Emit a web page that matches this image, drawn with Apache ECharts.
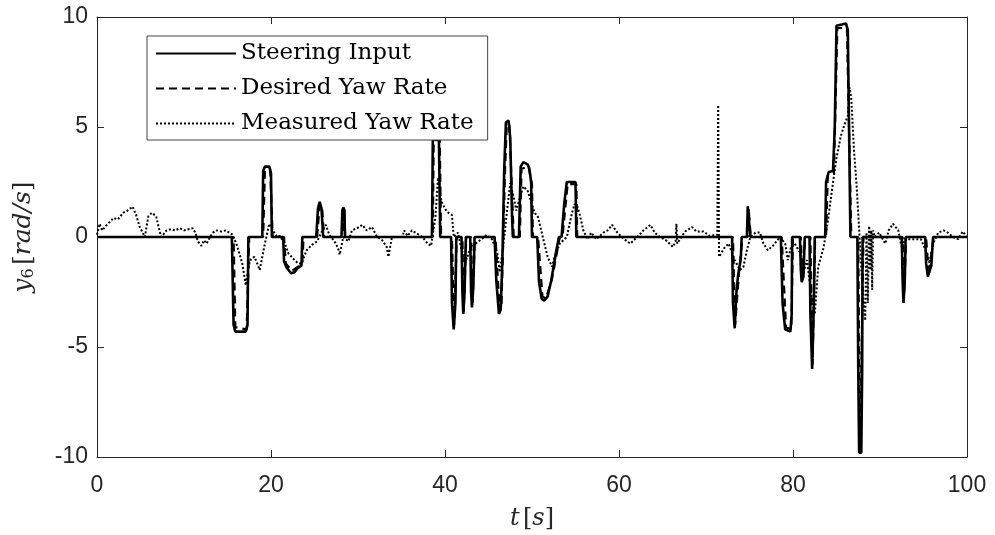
<!DOCTYPE html>
<html>
<head>
<meta charset="utf-8">
<script src="https://cdn.jsdelivr.net/npm/echarts@6/dist/echarts.min.js"></script>
<style>
  html, body { margin: 0; padding: 0; background: #fff; }
  #chart { width: 995px; height: 535px; }
</style>
</head>
<body>
<div id="chart"></div>
<script>
// axis ticks
const xTicks = [0, 20, 40, 60, 80, 100]
const yTicks = [-10, -5, 0, 5, 10]
const seriesNames = ['Steering Input', 'Desired Yaw Rate', 'Measured Yaw Rate']

// [t, value]
const steering = [
  [0, 0], [15.5, 0], [15.7, -4.0], [15.9, -4.3], [17.1, -4.3], [17.3, -4.0], [17.4, 0],
  [19.0, 0], [19.1, 3.0], [19.3, 3.2], [19.8, 3.2], [20.0, 2.9], [20.1, 0],
  [21.4, 0], [21.5, -1.1], [21.8, -1.4], [22.3, -1.65], [22.7, -1.6], [23.1, -1.4], [23.5, -1.3], [23.6, 0],
  [25.2, 0], [25.4, 1.3], [25.6, 1.6], [25.8, 1.3], [26.0, 0],
  [28.1, 0], [28.2, 1.2], [28.3, 1.35], [28.45, 1.2], [28.5, 0],
  [38.5, 0], [38.6, 4.5], [39.3, 4.5], [39.45, 0],
  [40.7, 0], [40.8, -3.0], [41.0, -4.2], [41.2, -3.0], [41.3, 0],
  [41.9, 0], [42.0, -2.5], [42.1, -3.5], [42.25, -2.5], [42.4, 0],
  [42.9, 0], [43.0, -2.5], [43.1, -3.2], [43.25, -2.3], [43.4, 0],
  [45.7, 0], [45.9, -2.0], [46.2, -3.5], [46.4, -3.3], [46.6, -1.0], [46.8, 3.0], [47.0, 5.2], [47.3, 5.3], [47.5, 4.5], [47.7, 1.0], [47.8, 0],
  [48.5, 0], [48.7, 3.2], [49.0, 3.4], [49.5, 3.3], [49.7, 3.1], [49.9, 2.5], [50.0, 0],
  [50.6, 0], [50.8, -2.0], [51.1, -2.8], [51.4, -2.9], [51.8, -2.7], [52.2, -2.0], [52.8, -0.6], [53.1, 0],
  [53.4, 0], [53.7, 1.5], [54.0, 2.5], [55.0, 2.5], [55.1, 0],
  [73.0, 0], [73.1, -3.0], [73.3, -4.15], [73.5, -2.5], [73.7, -1.7], [74.0, -1.0], [74.1, 0],
  [74.7, 0], [74.8, 1.4], [74.95, 1.4], [75.1, 0],
  [78.6, 0], [78.8, -3.0], [79.1, -4.2], [79.7, -4.3], [79.85, -3.5], [79.9, 0],
  [80.8, 0], [80.9, -1.5], [81.0, -2.05], [81.2, -1.8], [81.35, 0],
  [81.9, 0], [82.0, -3.5], [82.2, -6.0], [82.4, -3.0], [82.5, 0],
  [83.7, 0], [83.8, 2.5], [84.1, 2.95], [84.6, 3.0], [84.8, 5.0], [85.0, 9.6], [86.1, 9.7], [86.3, 9.4], [86.6, 0],
  [87.4, 0], [87.5, -6.0], [87.6, -9.8], [87.85, -9.8], [87.95, -6.0], [88.0, 0],
  [92.5, 0], [92.6, -2.0], [92.7, -3.0], [92.85, -2.0], [92.95, 0],
  [95.2, 0], [95.3, -1.2], [95.5, -1.8], [95.7, -1.8], [95.9, -1.3], [96.1, 0], [100, 0]
]

const desired = [
  [0, 0], [15.7, 0], [15.9, -4.1], [17.2, -4.2], [17.5, 0],
  [19.1, 0], [19.3, 3.0], [19.9, 3.1], [20.2, 0],
  [21.5, 0], [21.7, -1.2], [22.4, -1.55], [23.1, -1.35], [23.6, -1.2], [23.75, 0],
  [25.3, 0], [25.6, 1.5], [25.9, 1.2], [26.1, 0],
  [28.2, 0], [28.35, 1.25], [28.55, 0],
  [38.6, 0], [38.7, 4.4], [39.4, 4.4], [39.55, 0],
  [40.8, 0], [41.05, -4.0], [41.35, 0],
  [42.0, 0], [42.15, -3.4], [42.45, 0],
  [43.0, 0], [43.15, -3.1], [43.45, 0],
  [45.8, 0], [46.3, -3.4], [46.5, -3.0], [46.9, 3.0], [47.1, 5.1], [47.4, 5.1], [47.8, 1.0], [47.9, 0],
  [48.6, 0], [48.8, 3.1], [49.6, 3.2], [50.0, 2.4], [50.1, 0],
  [50.7, 0], [51.2, -2.7], [51.6, -2.8], [52.3, -1.9], [53.2, 0],
  [53.5, 0], [54.1, 2.4], [55.1, 2.4], [55.2, 0],
  [73.1, 0], [73.35, -4.0], [73.8, -1.6], [74.2, 0],
  [74.8, 0], [74.9, 1.3], [75.15, 0],
  [78.7, 0], [79.2, -4.1], [79.8, -4.2], [80.0, 0],
  [80.9, 0], [81.05, -1.95], [81.4, 0],
  [82.0, 0], [82.25, -5.8], [82.55, 0],
  [83.8, 0], [84.0, 2.8], [84.7, 2.9], [85.1, 9.5], [86.2, 9.5], [86.7, 0],
  [87.5, 0], [87.7, -9.7], [87.9, -9.7], [88.1, 0],
  [92.6, 0], [92.75, -2.9], [93.0, 0],
  [95.3, 0], [95.6, -1.75], [95.8, -1.75], [96.15, 0], [100, 0]
]

const measured = [
  [0, 0.1], [0.3, 0.6], [0.6, 0.3], [1.0, 0.5], [1.5, 0.7], [1.9, 0.86], [2.4, 0.8], [3.0, 1.1], [3.5, 1.2],
  [4.1, 1.38], [4.5, 1.0], [4.9, 0.47], [5.5, 0.0], [5.9, 0.94], [6.3, 1.1], [6.8, 0.94], [7.2, 0.26], [7.4, 0.0],
  [8.0, 0.3], [8.5, 0.35], [9.0, 0.3], [9.5, 0.4], [10.0, 0.3], [10.5, 0.35], [11.0, 0.4], [11.3, 0.2],
  [11.6, -0.2], [12.0, -0.4], [12.3, -0.15], [12.6, -0.3], [13.0, 0.0], [13.3, 0.2], [13.8, 0.3], [14.3, 0.25],
  [14.8, 0.3], [15.2, 0.2], [15.6, 0.1], [16.1, -0.4], [16.4, -0.8], [16.7, -1.2], [17.1, -2.2], [17.4, -1.4],
  [17.6, -1.05], [18.1, -0.9], [18.7, -1.5], [19.3, -0.3], [19.8, 0.6], [20.2, 0.3], [20.7, 0.0], [21.0, 0.05],
  [21.6, -0.3], [22.0, -0.75], [22.6, -1.0], [23.1, -1.2], [23.5, -1.2], [24.1, -0.6], [24.7, -0.36], [25.3, -0.2],
  [25.9, 0.3], [26.3, 0.55], [26.7, 0.1], [27.3, -0.2], [27.7, -0.5], [27.9, -0.8], [28.3, 0.0], [28.9, -0.2],
  [29.3, 0.3], [29.9, 0.4], [30.5, 0.55], [31.0, 0.3], [31.6, 0.45], [32.2, 0.0], [32.7, -0.1], [33.3, -0.45],
  [33.5, -0.9], [33.9, 0.0], [34.5, 0.0], [35.1, 0.0], [35.3, 0.3], [35.7, 0.05], [36.2, 0.3], [36.8, 0.15],
  [37.4, 0.0], [38.0, -0.3], [38.4, -0.4], [38.9, 0.9], [39.2, 2.7], [39.6, 1.6], [40.2, 1.15], [40.8, 1.0],
  [41.0, 0.0], [41.5, 0.2], [41.9, -0.6], [42.5, -1.0], [42.9, -0.5], [43.5, -0.3], [44.2, -0.1], [44.8, 0.1],
  [45.4, -0.1], [46.0, -0.7], [46.3, -1.6], [46.7, -0.4], [47.1, 1.1], [47.5, 2.45], [47.9, 1.8], [48.2, 1.2],
  [48.6, 1.8], [49.0, 2.3], [49.5, 2.1], [49.9, 1.6], [50.3, 1.1], [50.7, 0.9], [51.3, -0.1], [51.8, -0.9],
  [52.3, -1.35], [52.6, -0.9], [53.2, -0.3], [54.0, 0.0], [54.6, 1.1], [54.9, 1.5], [55.2, 1.4], [55.5, 1.0],
  [55.9, 0.3], [56.4, -0.1], [56.8, 0.2], [57.4, -0.1], [58.2, 0.2], [58.7, 0.3], [59.2, 0.55], [59.8, 0.2],
  [60.6, -0.1], [61.3, -0.3], [62.1, 0.0], [62.8, 0.3], [63.6, 0.55], [64.1, 0.2], [64.7, 0.0], [65.4, -0.15],
  [66.2, -0.45], [66.5, -0.2], [66.6, 0.6], [66.7, -0.3], [67.0, -0.1], [67.6, 0.25], [68.4, 0.45], [68.9, 0.25],
  [69.7, 0.25], [70.4, 0.05], [71.3, 0.1], [71.4, 6.0], [71.5, -0.9], [71.6, -0.9], [72.1, -0.5], [72.6, -0.3],
  [73.3, -1.05], [73.9, -1.5], [74.3, -1.35], [74.7, -0.6], [75.1, 0.0], [75.7, 0.2], [76.2, 0.2], [76.6, -0.3],
  [77.1, -0.6], [77.7, -0.4], [78.5, 0.0], [79.1, -0.3], [79.4, -1.05], [79.8, -0.4], [80.2, -0.3], [80.8, -0.7],
  [81.2, -1.65], [81.6, -1.05], [82.1, -2.6], [82.5, -3.5], [82.9, -1.35], [83.5, -0.5], [84.0, 0.7],
  [84.5, 2.2], [85.0, 3.6], [85.5, 4.6], [86.0, 5.2], [86.3, 5.5], [86.5, 6.8], [86.7, 6.3], [87.0, 4.0],
  [87.3, 2.4], [87.7, -0.3], [88.0, -2.5], [88.3, -3.8], [88.45, 0.2], [88.6, -3.0], [88.75, 0.5], [88.9, -1.5],
  [89.0, 0.3], [89.1, -2.4], [89.2, 0.3], [89.4, 0.0], [89.9, 0.2], [90.6, -0.3], [91.0, 0.3], [91.5, 0.6],
  [92.1, 0.3], [92.4, -0.3], [92.6, -0.6], [92.8, -0.1], [93.4, -0.1], [94.2, -0.1], [94.7, -0.1], [95.4, -0.75],
  [95.7, -1.2], [96.1, -0.3], [96.7, 0.2], [97.3, 0.3], [97.8, 0.2], [98.4, 0.0], [99.0, -0.1], [99.5, 0.25], [100, 0.0]
]

const axisColor = '#262626'
const tickFont = { fontFamily: 'Liberation Sans', fontSize: 23, color: axisColor }
const serif = 'DejaVu Serif'

const chart = echarts.init(document.getElementById('chart'))

function xAxisOpt(pos, showLabel) {
  return {
    type: 'value',
    position: pos,
    min: xTicks[0],
    max: xTicks[xTicks.length - 1],
    interval: 20,
    axisLine: { show: true, onZero: false, lineStyle: { color: axisColor, width: 1 } },
    axisTick: { show: true, inside: true, length: 7, lineStyle: { color: axisColor } },
    axisLabel: { show: showLabel, margin: 17, ...tickFont },
    splitLine: { show: false }
  }
}

function yAxisOpt(pos, showLabel) {
  return {
    type: 'value',
    position: pos,
    min: yTicks[0],
    max: yTicks[yTicks.length - 1],
    interval: 5,
    axisLine: { show: true, onZero: false, lineStyle: { color: axisColor, width: 1 } },
    axisTick: { show: true, inside: true, length: 7, lineStyle: { color: axisColor } },
    axisLabel: { show: showLabel, margin: 9, ...tickFont },
    splitLine: { show: false }
  }
}

const xMain = xAxisOpt('bottom', true)
xMain.name = '{i|t} {n|[}{i|s}{n|]}'
xMain.nameLocation = 'middle'
xMain.nameGap = 50
xMain.nameTextStyle = {
  rich: {
    i: { fontFamily: serif, fontStyle: 'italic', fontSize: 24, color: axisColor },
    n: { fontFamily: serif, fontSize: 24, color: axisColor }
  }
}

const yMain = yAxisOpt('left', true)
yMain.name = '{i|y}{sub|6} {n|[}{i|rad/s}{n|]}'
yMain.nameLocation = 'middle'
yMain.nameGap = 60
yMain.nameRotate = 90
yMain.nameTextStyle = {
  rich: {
    i: { fontFamily: serif, fontStyle: 'italic', fontSize: 25, color: axisColor },
    sub: { fontFamily: serif, fontSize: 16, color: axisColor, verticalAlign: 'bottom', padding: [12, 0, 0, 0] },
    n: { fontFamily: serif, fontSize: 25, color: axisColor }
  }
}

chart.setOption({
  animation: false,
  backgroundColor: '#fff',
  color: ['#000', '#000', '#000'],
  grid: { left: 97, right: 28, top: 17, bottom: 78, containLabel: false, outerBoundsMode: 'none' },
  legend: {
    orient: 'vertical',
    left: 147,
    top: 36,
    data: seriesNames,
    backgroundColor: '#fff',
    borderColor: '#444',
    borderWidth: 1,
    borderRadius: 0,
    padding: [6, 14, 5, 8],
    itemGap: 12,
    itemWidth: 80,
    itemHeight: 24,
    itemStyle: { opacity: 0 },
    textStyle: { fontFamily: serif, fontSize: 23, color: '#000' }
  },
  xAxis: [xMain, xAxisOpt('top', false)],
  yAxis: [yMain, yAxisOpt('right', false)],
  series: [
    {
      name: seriesNames[0], type: 'line', data: steering, symbol: 'none', z: 3,
      lineStyle: { color: '#000', width: 2.6, type: 'solid' }
    },
    {
      name: seriesNames[1], type: 'line', data: desired, symbol: 'none', z: 2,
      lineStyle: { color: '#000', width: 2.2, type: [8, 5] }
    },
    {
      name: seriesNames[2], type: 'line', data: measured, symbol: 'none', z: 1,
      lineStyle: { color: '#000', width: 2, type: [2, 2] }
    }
  ]
})
</script>
</body>
</html>
